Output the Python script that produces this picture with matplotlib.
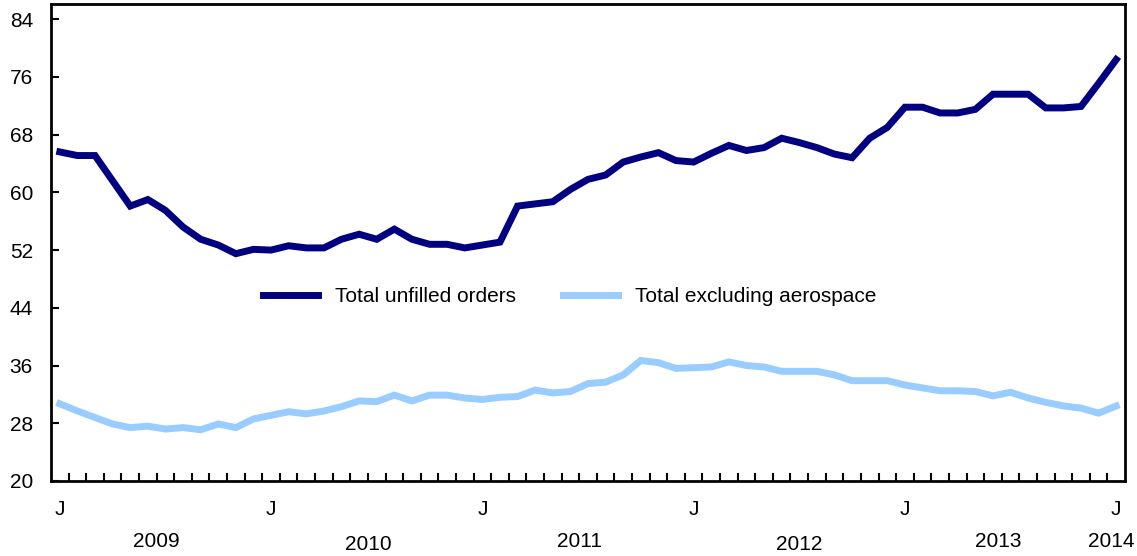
import matplotlib
matplotlib.use("Agg")
import matplotlib.pyplot as plt
import matplotlib.transforms as mtransforms
import numpy as np

plt.rcParams['font.family'] = ['Liberation Sans', 'DejaVu Sans']

# Monthly data, January 2009 to January 2014 (61 months)
total_unfilled = [
    65.6, 65.1, 65.1, 61.6, 58.1, 59.0, 57.5, 55.2, 53.5, 52.7,
    51.5, 52.1, 52.0, 52.6, 52.3, 52.3, 53.5, 54.2, 53.5, 54.9,
    53.5, 52.8, 52.8, 52.3, 52.7, 53.1, 58.1, 58.4, 58.7, 60.4,
    61.8, 62.4, 64.2, 64.9, 65.5, 64.4, 64.2, 65.4, 66.5, 65.8,
    66.2, 67.5, 66.9, 66.2, 65.3, 64.8, 67.5, 69.0, 71.8, 71.8,
    71.0, 71.0, 71.5, 73.6, 73.6, 73.6, 71.7, 71.7, 71.9, 75.1,
    78.4,
]
excl_aerospace = [
    30.7, 29.7, 28.8, 27.9, 27.4, 27.6, 27.2, 27.4, 27.1, 27.9,
    27.4, 28.6, 29.1, 29.6, 29.3, 29.7, 30.3, 31.1, 31.0, 31.9,
    31.1, 31.9, 31.9, 31.5, 31.3, 31.6, 31.7, 32.6, 32.2, 32.4,
    33.5, 33.7, 34.7, 36.7, 36.4, 35.6, 35.7, 35.8, 36.5, 36.0,
    35.8, 35.2, 35.2, 35.2, 34.7, 33.9, 33.9, 33.9, 33.3, 32.9,
    32.5, 32.5, 32.4, 31.8, 32.3, 31.5, 30.9, 30.4, 30.1, 29.4,
    30.4,
]
series_names = ["Total unfilled orders", "Total excluding aerospace"]
month_labels = ["J", "J", "J", "J", "J", "J"]
month_label_pos = [0, 12, 24, 36, 48, 60]
years = ["2009", "2010", "2011", "2012", "2013", "2014"]
year_pos = [5.5, 17.5, 29.5, 42.0, 53.3, 59.7]
year_y = [-0.126, -0.134, -0.126, -0.134, -0.126, -0.126]
yticks = [20, 28, 36, 44, 52, 60, 68, 76, 84]

x = np.arange(len(total_unfilled))

fig = plt.figure(figsize=(11.37, 5.56), dpi=100)
ax = fig.add_axes([51/1137, 1 - 481/556, (1125 - 51)/1137, (481 - 4)/556])

ax.plot(x, total_unfilled, color="#000080", lw=5, solid_joinstyle="miter",
        label=series_names[0])
ax.plot(x, excl_aerospace, color="#99CCFF", lw=5, solid_joinstyle="miter",
        label=series_names[1])

ax.set_xlim(-0.5, len(x) - 0.5)
ax.set_ylim(20, 86.1)
ax.set_yticks(yticks)
ax.set_yticklabels([str(v) for v in yticks], fontsize=15)
ax.tick_params(axis="y", direction="in", length=6, width=1.5, pad=13)

ax.set_xticks(month_label_pos)
ax.set_xticklabels(month_labels, fontsize=15)
ax.set_xticks(np.arange(0.5, len(x) - 1, 1.0), minor=True)
ax.tick_params(axis="x", which="major", length=0, pad=14)
ax.tick_params(axis="x", which="minor", direction="in", length=6, width=1.5)

for s in ax.spines.values():
    s.set_linewidth(2)
    s.set_color("black")

trans = mtransforms.blended_transform_factory(ax.transData, ax.transAxes)
for yr, xp, yp in zip(years, year_pos, year_y):
    ax.text(xp, yp, yr, transform=trans, ha="center", va="center", fontsize=15)

leg = ax.legend(loc="center", bbox_to_anchor=(0.483, 0.386), ncol=2, frameon=False,
                fontsize=15, handlelength=2.65, columnspacing=2.25, handletextpad=0.8)

fig.savefig("out.png", dpi=100)
